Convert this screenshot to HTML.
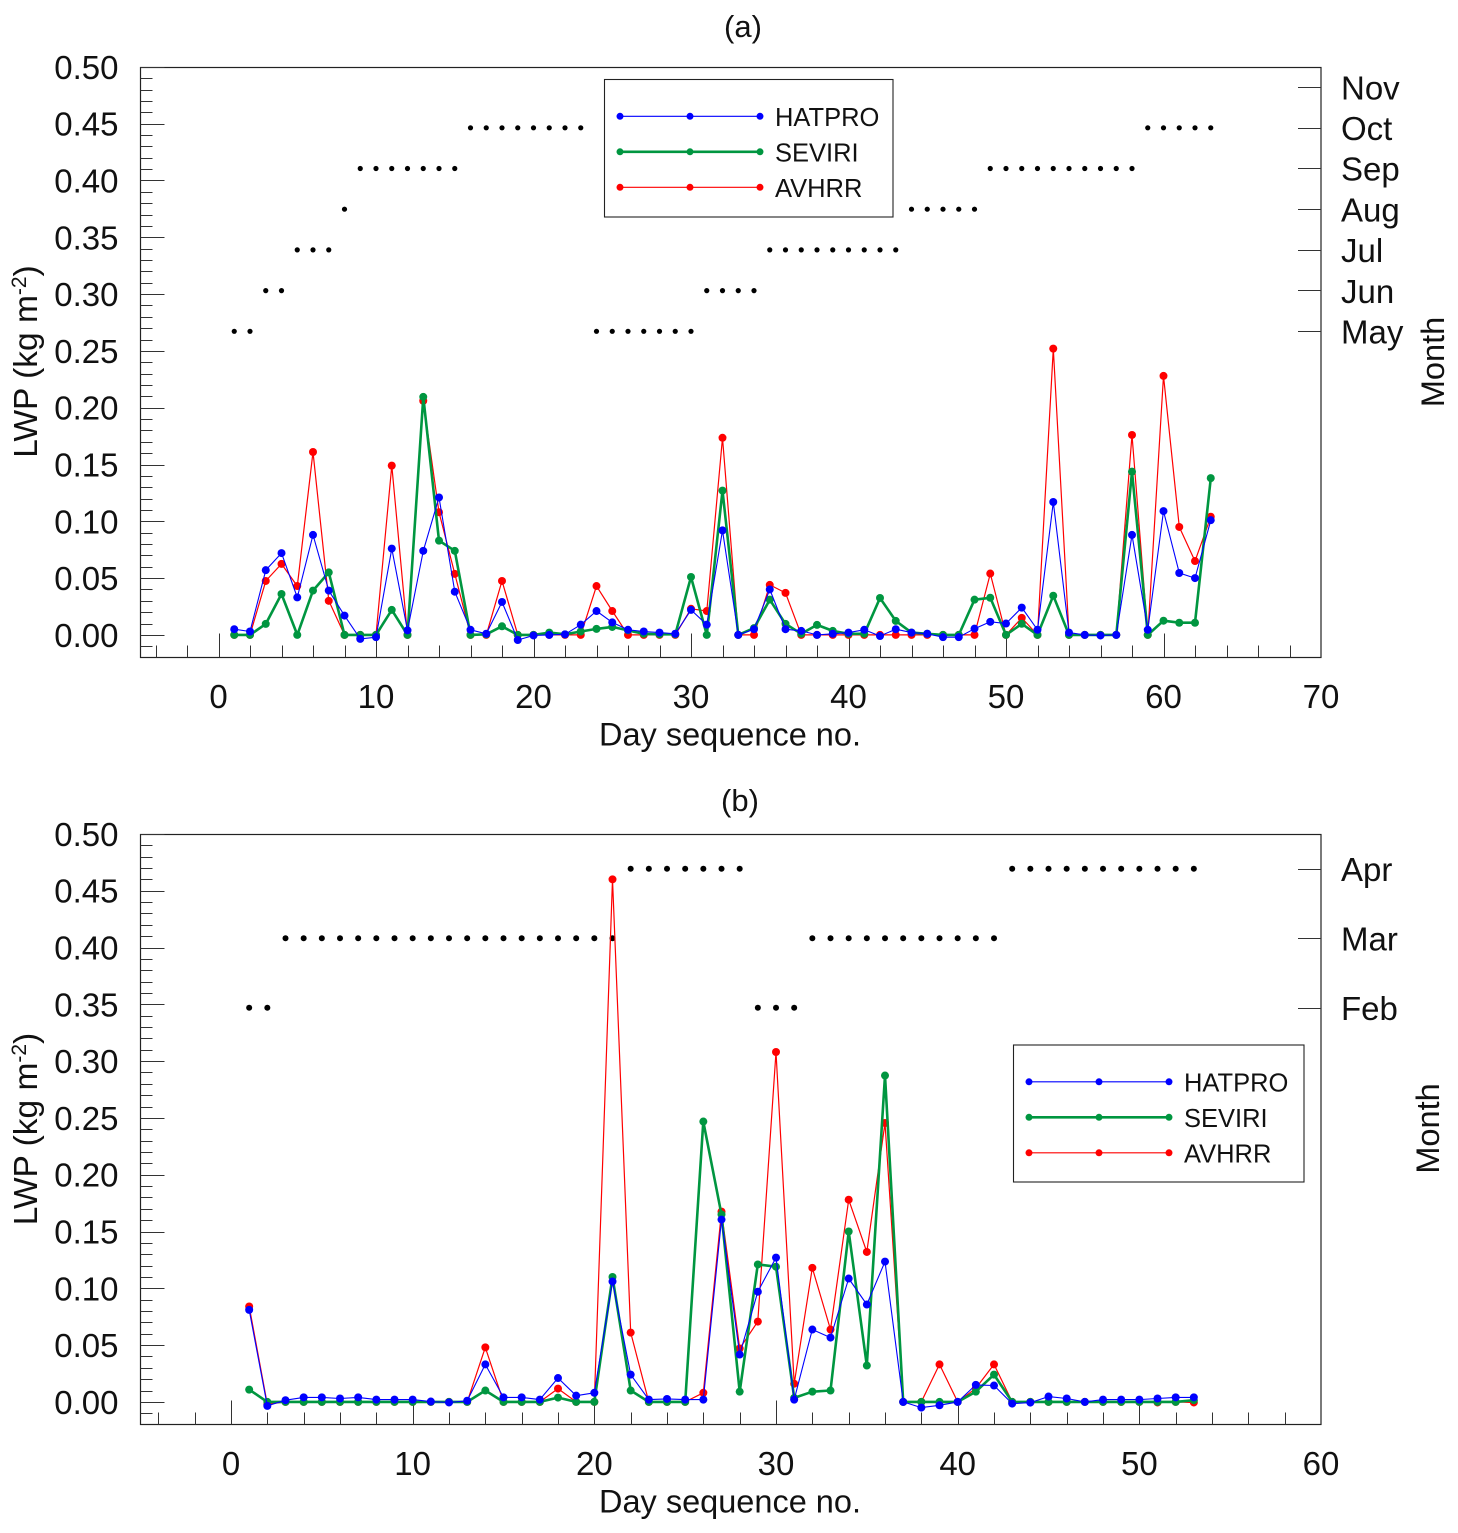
<!DOCTYPE html>
<html lang="en">
<head>
<meta charset="utf-8">
<title>LWP comparison chart</title>
<style>
html,body{margin:0;padding:0;background:#fff;}
svg{display:block;}
text{font-family:"Liberation Sans",Arial,sans-serif;fill:#111;}
</style>
</head>
<body>
<svg id="chart" xmlns="http://www.w3.org/2000/svg" width="1458" height="1533" viewBox="0 0 1458 1533"></svg>
<script>
const yTickValues = [0.00,0.05,0.10,0.15,0.20,0.25,0.30,0.35,0.40,0.45,0.50];
const xTicksA = [0,10,20,30,40,50,60,70];
const xTicksB = [0,10,20,30,40,50,60];
const monthLabelsA = ["May","Jun","Jul","Aug","Sep","Oct","Nov"];
const monthLabelsB = ["Feb","Mar","Apr"];
const seriesNames = ["HATPRO","SEVIRI","AVHRR"];

const daysA = [1,2,3,4,5,6,7,8,9,10,11,12,13,14,15,16,17,18,19,20,21,22,23,24,25,26,27,28,29,30,31,32,33,34,35,36,37,38,39,40,41,42,43,44,45,46,47,48,49,50,51,52,53,54,55,56,57,58,59,60,61,62,63];
const hatproA = [.005,.003,.057,.072,.033,.088,.039,.017,-.0035,-.002,.076,.004,.074,.121,.038,.0045,.001,.029,-.0045,-.0005,0,.0005,.009,.021,.011,.0045,.003,.002,.001,.022,.009,.092,0,.005,.040,.005,.0035,0,.001,.002,.0045,-.001,.005,.002,.001,-.002,-.002,.0055,.0115,.01,.024,.0045,.117,.002,0,-.0005,0,.088,.0045,.109,.0545,.050,.101];
const seviriA = [0,0,.0097,.036,0,.039,.055,0,0,0,.022,0,.2095,.083,.074,0,.0005,.0076,0,0,.002,.0005,.003,.0053,.007,.004,.001,.0005,.0005,.051,0,.127,0,.006,.031,.0097,.001,.0088,.0035,.001,.001,.0325,.0123,.002,.001,0,0,.031,.0327,0,.0098,0,.0345,0,0,0,0,.1437,0,.0125,.0107,.0107,.138];
const avhrrA = [0,0,.0475,.0625,.043,.161,.03,0,0,0,.149,0,.206,.108,.0537,0,0,.0475,0,0,0,0,0,.043,.021,0,0,0,0,.023,.021,.1735,0,0,.044,.037,0,0,0,0,0,0,0,0,0,0,0,0,.054,0,.015,0,.252,0,0,0,0,.176,0,.228,.095,.065,.104];
const monthIndexA = [0,0,1,1,2,2,2,3,4,4,4,4,4,4,4,5,5,5,5,5,5,5,5,0,0,0,0,0,0,0,1,1,1,1,2,2,2,2,2,2,2,2,2,3,3,3,3,3,4,4,4,4,4,4,4,4,4,4,5,5,5,5,5];

const daysB = [1,2,3,4,5,6,7,8,9,10,11,12,13,14,15,16,17,18,19,20,21,22,23,24,25,26,27,28,29,30,31,32,33,34,35,36,37,38,39,40,41,42,43,44,45,46,47,48,49,50,51,52,53];
const hatproB = [.081,-.0035,.0015,.004,.004,.003,.004,.002,.002,.002,.0003,-.0005,.001,.033,.004,.004,.002,.021,.0055,.008,.106,.024,.002,.0026,.002,.002,.1605,.0417,.097,.127,.002,.0637,.0566,.1086,.0857,.1235,0,-.005,-.003,0,.015,.0144,-.0015,-.0006,.0047,.003,0,.002,.002,.002,.003,.004,.004];
const seviriB = [.0108,0,0,0,0,0,0,0,0,0,0,0,0,.01,0,0,0,.0038,0,0,.11,.01,0,0,0,.2468,.165,.009,.121,.119,.0035,.009,.01,.15,.032,.2873,0,0,0,0,.009,.024,0,0,0,0,0,0,0,0,0,0,.0015];
const avhrrB = [.084,-.002,0,0,0,0,0,0,0,0,0,0,0,.048,0,0,0,.0117,0,0,.46,.061,0,0,0,.008,.1675,.047,.0707,.308,.016,.118,.0637,.178,.132,.2455,0,0,.033,0,.012,.033,0,0,0,0,0,0,0,0,-.0005,0,-.0005];
const monthIndexB = [0,0,1,1,1,1,1,1,1,1,1,1,1,1,1,1,1,1,1,1,1,2,2,2,2,2,2,2,0,0,0,1,1,1,1,1,1,1,1,1,1,1,2,2,2,2,2,2,2,2,2,2,2];

const NS = "http://www.w3.org/2000/svg";
const svg = document.getElementById("chart");
const colors = {HATPRO:"#0000ff", SEVIRI:"#009640", AVHRR:"#ff0000"};
const widths = {HATPRO:1.1, SEVIRI:2.6, AVHRR:1.2};

function make(parent, tag, props, txt) {
  const n = document.createElementNS(NS, tag);
  for (const k in props) n.setAttribute(k, props[k]);
  if (txt !== undefined) n.textContent = txt;
  parent.appendChild(n);
  return n;
}

function drawPanel(p) {
  const g = make(svg, "g", {});
  
  
  const xs = v => p.x0 + v * p.xUnit;
  const ys = v => p.y0 - v * 1136;
  const my = i => p.monthY0 - i * p.monthStep;
  const L = 140.5, R = 1321, T = Math.round(ys(0.5)) + 0.5, B = Math.floor(ys(-0.02)) + 0.5;

  const frame = make(g, "rect", {x:L, y:T, width:R-L, height:B-T, fill:"none", stroke:"#222", "stroke-width":1.2});
  
  

  // minor + major y ticks (the -0.02 tick coincides with the bottom frame edge)
  for (let k = -1; k <= 50; k++) {
    const major = k % 5 === 0;
    const y = Math.round(ys(k / 100)) + 0.5;
    const t = make(g, "line", {x1:L, x2:L + (major ? 24 : 12), y1:y, y2:y, stroke:"#333", "stroke-width":1});
    
    
  }
  // minor + major x ticks
  for (let v = -4; xs(v) < R; v += 2) {
    const major = v % 10 === 0;
    const x = Math.round(xs(v)) + 0.5;
    const t = make(g, "line", {x1:x, x2:x, y1:B, y2:B - (major ? 24 : 12), stroke:"#333", "stroke-width":1});
    
    
  }
  // y tick labels
  yTickValues.forEach(v => {
    const t = make(g, "text", {x:118.5, y:ys(v) + 12, "text-anchor":"end", "font-size":33}, v.toFixed(2));
    
    
  });
  // x tick labels
  p.xTicks.forEach(v => {
    const t = make(g, "text", {x:xs(v), y:B + 50.5, "text-anchor":"middle", "font-size":33}, v);
    
    
  });
  // month ticks and labels
  p.months.forEach((m, i) => {
    const y = Math.round(my(i)) + 0.5;
    const t = make(g, "line", {x1:p.monthTickX, x2:R, y1:y, y2:y, stroke:"#333", "stroke-width":1});
    
    
    const l = make(g, "text", {x:1341, y:my(i) + 12.5, "font-size":33}, m);
    
    
  });
  // month dots
  p.days.forEach((d, i) => {
    const c = make(g, "circle", {cx:xs(d), cy:my(p.monthIndex[i]) + 0.3, r:p.dotR, fill:"#000"});
    
    
  });
  // series
  ["AVHRR","SEVIRI","HATPRO"].forEach(name => {
    const vals = p.series[name];
    const pts = vals.map((v, i) => xs(p.days[i]).toFixed(1) + "," + ys(v).toFixed(1)).join(" ");
    const line = make(g, "polyline", {points:pts, fill:"none", stroke:colors[name], "stroke-width":widths[name], "stroke-linejoin":"round"});
    
    
    vals.forEach((v, i) => {
      const c = make(g, "circle", {cx:xs(p.days[i]), cy:ys(v), r:4, fill:colors[name]});
      
      
    });
  });
  // titles
  const title = make(g, "text", {x:p.titleX, y:p.titleY, "text-anchor":"middle", "font-size":31}, p.title);
  
  
  const xt = make(g, "text", {x:730, y:B + 88, "text-anchor":"middle", "font-size":32.5}, "Day sequence no.");
  
  
  const yt = make(g, "text", {transform:"translate(37," + p.yTitleY + ") rotate(-90)", "text-anchor":"middle", "font-size":33.5});
  
  
  make(yt, "tspan", {}, "LWP (kg m");
  make(yt, "tspan", {dy:-11, "font-size":21}, "-2");
  make(yt, "tspan", {dy:11}, ")");
  const mt = make(g, "text", {transform:"translate(" + p.monthTitleX + "," + p.monthTitleY + ") rotate(-90)", "text-anchor":"middle", "font-size":32.5}, "Month");
  
  

  // legend
  const lg = make(g, "g", {});
  
  
  const bx = make(lg, "rect", {x:p.legend.x, y:p.legend.y, width:p.legend.w, height:p.legend.h, fill:"#fff", stroke:"#222", "stroke-width":1.1});
  
  
  seriesNames.forEach((name, i) => {
    const y = p.legend.y + 36.8 + i * 35.5;
    const a = p.legend.x + 15.5, b = a + 70, c = a + 140;
    const ln = make(lg, "line", {x1:a, x2:c, y1:y, y2:y, stroke:colors[name], "stroke-width":widths[name]});
    
    
    [a, b, c].forEach(cx => {
      const m = make(lg, "circle", {cx:cx, cy:y, r:3.5, fill:colors[name]});
      
      
    });
    const t = make(lg, "text", {x:c + 15, y:y + 9.5, "font-size":25.5}, name);
    
    
  });
}

drawPanel({
  id:"panel-a", title:"(a)", titleX:743, titleY:37, x0:218.5, xUnit:15.75, y0:634.9,
  xTicks:xTicksA, months:monthLabelsA, monthY0:331, monthStep:40.7, monthTickX:1298,
  days:daysA, monthIndex:monthIndexA, dotR:2.6,
  series:{HATPRO:hatproA, SEVIRI:seviriA, AVHRR:avhrrA},
  yTitleY:361.5, monthTitleX:1444, monthTitleY:362,
  legend:{x:604.5, y:79.5, w:288.5, h:137.5}
});
drawPanel({
  id:"panel-b", title:"(b)", titleX:740, titleY:811, x0:231, xUnit:18.167, y0:1401.9,
  xTicks:xTicksB, months:monthLabelsB, monthY0:1007.5, monthStep:69.5, monthTickX:1298,
  days:daysB, monthIndex:monthIndexB, dotR:3,
  series:{HATPRO:hatproB, SEVIRI:seviriB, AVHRR:avhrrB},
  yTitleY:1129, monthTitleX:1439, monthTitleY:1128.5,
  legend:{x:1013.5, y:1045, w:290.5, h:137}
});
</script>
</body>
</html>
